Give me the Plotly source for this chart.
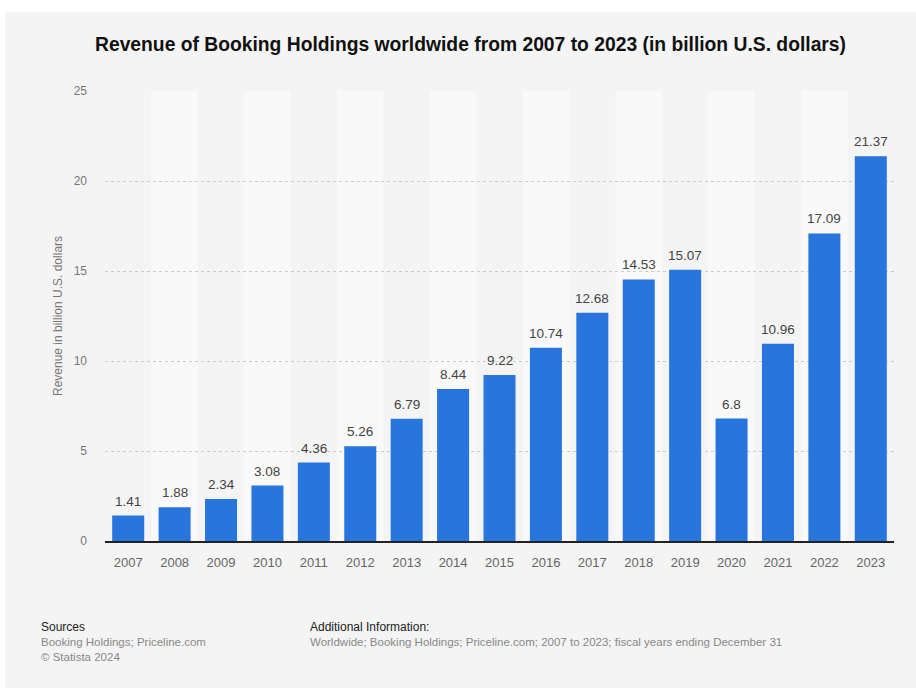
import plotly.graph_objects as go

years = ["2007", "2008", "2009", "2010", "2011", "2012", "2013", "2014", "2015",
         "2016", "2017", "2018", "2019", "2020", "2021", "2022", "2023"]
revenue = [1.41, 1.88, 2.34, 3.08, 4.36, 5.26, 6.79, 8.44, 9.22,
           10.74, 12.68, 14.53, 15.07, 6.8, 10.96, 17.09, 21.37]
labels = ["1.41", "1.88", "2.34", "3.08", "4.36", "5.26", "6.79", "8.44", "9.22",
          "10.74", "12.68", "14.53", "15.07", "6.8", "10.96", "17.09", "21.37"]
y_ticks = [0, 5, 10, 15, 20, 25]

W, H = 916, 688
L, R, T, B = 105, 22, 91, 147
PW, PH = W - L - R, H - T - B
FONT = "Liberation Sans, Arial, Helvetica, sans-serif"


def px(x):
    return (x - L) / PW


def py(y):
    return (H - B - y) / PH


fig = go.Figure()
fig.add_trace(go.Bar(
    x=years, y=revenue,
    marker=dict(color="#2876dd", line=dict(width=0)),
    width=0.69, hoverinfo="x+y",
))

shapes = []
# outer white frame strips (card background)
shapes.append(dict(type="rect", xref="paper", yref="paper",
                   x0=px(-5), x1=px(W + 5), y0=py(12), y1=py(-5),
                   fillcolor="white", line=dict(width=0), layer="below"))
shapes.append(dict(type="rect", xref="paper", yref="paper",
                   x0=px(-5), x1=px(5), y0=py(H + 5), y1=py(-5),
                   fillcolor="white", line=dict(width=0), layer="below"))
# alternating column bands
for i in range(len(years)):
    if i % 2 == 1:
        shapes.append(dict(type="rect", xref="x", yref="paper",
                           x0=i - 0.5, x1=i + 0.5, y0=0, y1=1,
                           fillcolor="#f9f9f9", line=dict(width=0), layer="below"))

annotations = [
    dict(text="<b>Revenue of Booking Holdings worldwide from 2007 to 2023 (in billion U.S. dollars)</b>",
         x=px(470), y=py(44), xref="paper", yref="paper", showarrow=False,
         xanchor="center", yanchor="middle",
         font=dict(size=19.3, color="#111111", family=FONT)),
    dict(text="Sources", x=px(39), y=py(627), xref="paper", yref="paper",
         showarrow=False, xanchor="left", yanchor="middle",
         font=dict(size=12, color="#222222", family=FONT)),
    dict(text="Booking Holdings; Priceline.com", x=px(39), y=py(642), xref="paper", yref="paper",
         showarrow=False, xanchor="left", yanchor="middle",
         font=dict(size=11.5, color="#888888", family=FONT)),
    dict(text="© Statista 2024", x=px(39), y=py(657), xref="paper", yref="paper",
         showarrow=False, xanchor="left", yanchor="middle",
         font=dict(size=11.5, color="#888888", family=FONT)),
    dict(text="Additional Information:", x=px(308), y=py(627), xref="paper", yref="paper",
         showarrow=False, xanchor="left", yanchor="middle",
         font=dict(size=12, color="#222222", family=FONT)),
    dict(text="Worldwide; Booking Holdings; Priceline.com; 2007 to 2023; fiscal years ending December 31",
         x=px(308), y=py(642), xref="paper", yref="paper",
         showarrow=False, xanchor="left", yanchor="middle",
         font=dict(size=11.5, color="#888888", family=FONT)),
]
# value labels above bars (category index positions on the category axis)
for i, (v, lab) in enumerate(zip(revenue, labels)):
    annotations.append(dict(text=lab, x=i, y=v, xref="x", yref="y", showarrow=False,
                            xanchor="center", yanchor="bottom", yshift=5,
                            font=dict(size=13.5, color="#444444", family=FONT)))

fig.update_layout(
    width=W, height=H,
    margin=dict(l=L, r=R, t=T, b=B, pad=0),
    paper_bgcolor="#f4f4f4", plot_bgcolor="rgba(0,0,0,0)",
    font=dict(family=FONT),
    showlegend=False, bargap=0.31,
    shapes=shapes, annotations=annotations,
    xaxis=dict(type="category", range=[-0.5, len(years) - 0.5], showgrid=False,
               showline=True, linecolor="#222222",
               linewidth=1.5, ticks="", tickfont=dict(size=13, color="#666666"),
               ticklabelstandoff=9, fixedrange=True),
    yaxis=dict(range=[0, 25], tickvals=y_ticks, showgrid=True, gridcolor="#cccccc",
               griddash="dot", gridwidth=1, zeroline=False, showline=False,
               tickfont=dict(size=12, color="#777777"), ticklabelstandoff=17,
               title=dict(text="Revenue in billion U.S. dollars", standoff=8,
                          font=dict(size=12, color="#777777")),
               fixedrange=True),
)

fig.write_html("out.html", config={"displayModeBar": False},
               post_script="document.body.style.margin='0';document.body.style.overflow='hidden';")
